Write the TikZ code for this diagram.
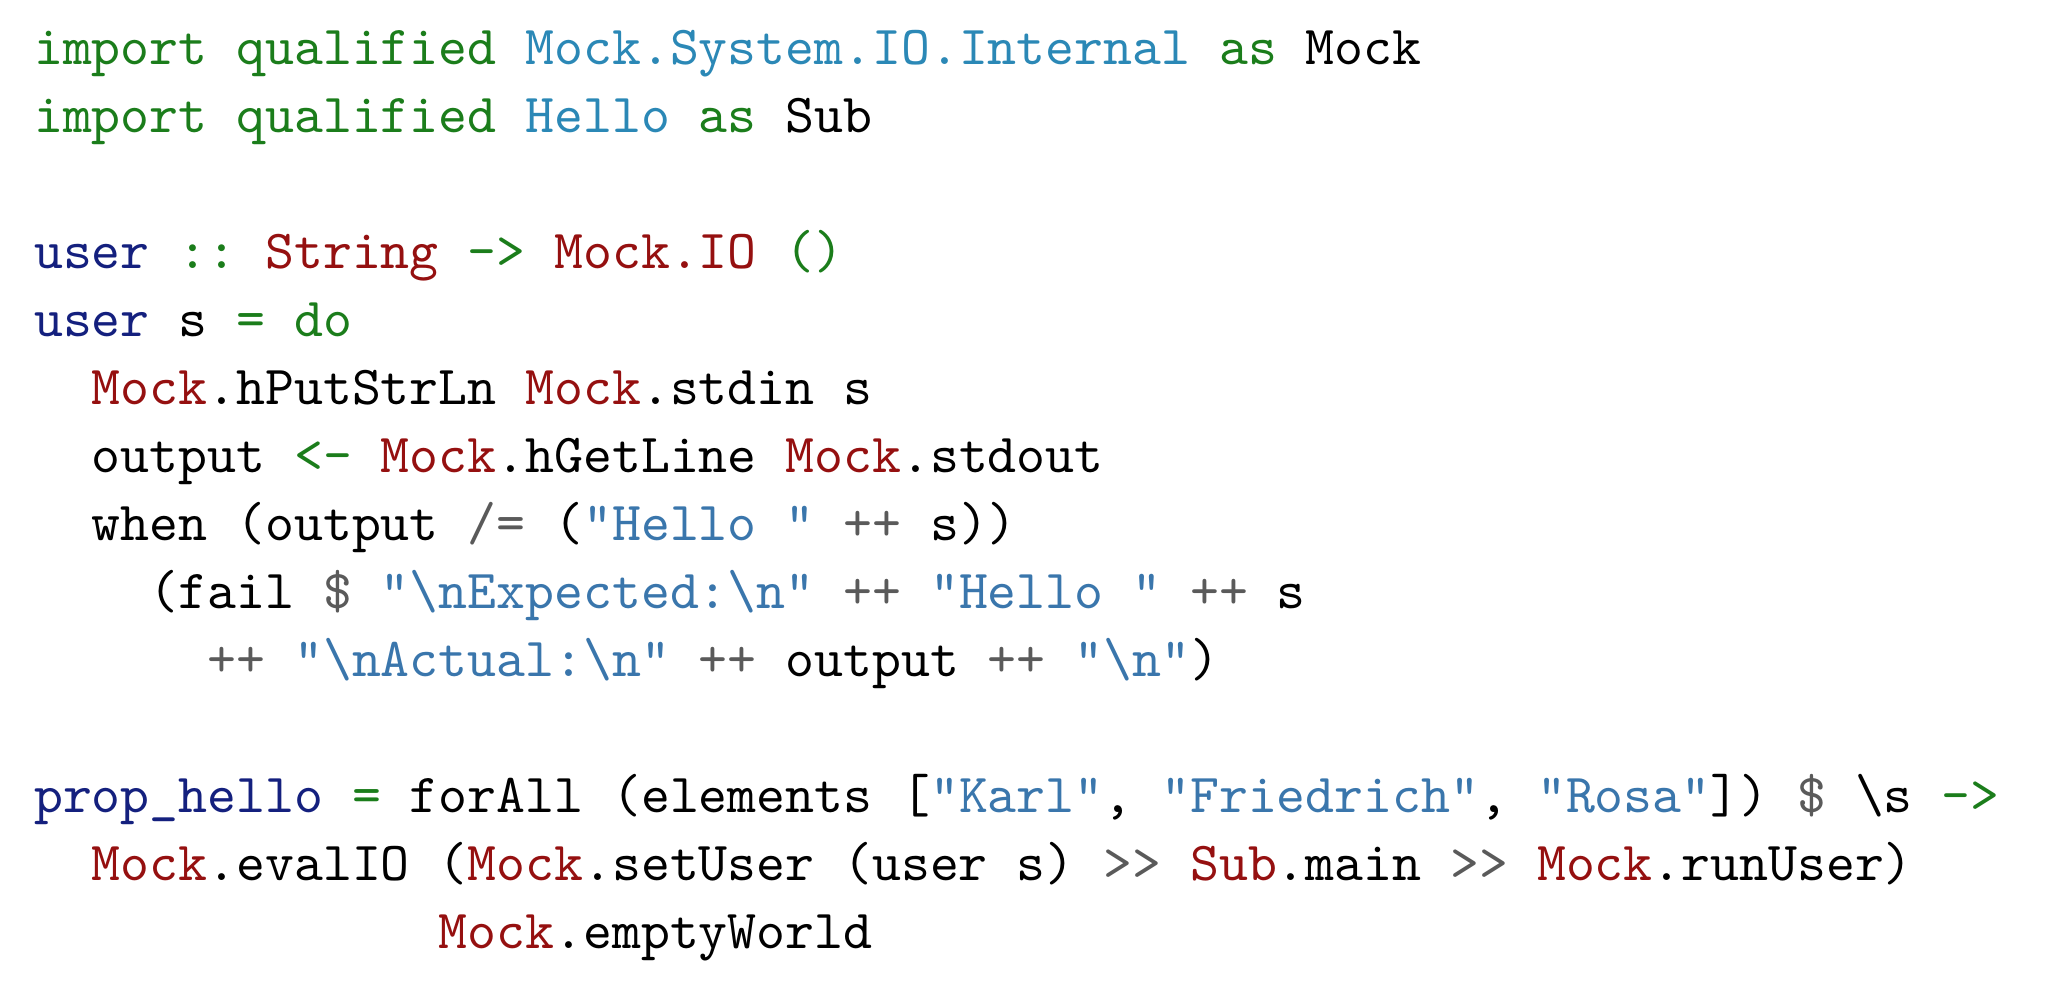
\documentclass[tikz,border=0pt]{standalone}
\usepackage{xcolor}
\definecolor{kwgreen}{HTML}{1B7D1B}
\definecolor{nsblue}{HTML}{2B88B6}
\definecolor{tyred}{HTML}{951010}
\definecolor{fnnavy}{HTML}{14207E}
\definecolor{stblue}{HTML}{3A76AC}
\definecolor{opgrey}{HTML}{5A5A5A}
\newcommand\kw[1]{\textcolor{kwgreen}{#1}}
\newcommand\ns[1]{\textcolor{nsblue}{#1}}
\newcommand\ty[1]{\textcolor{tyred}{#1}}
\newcommand\fn[1]{\textcolor{fnnavy}{#1}}
\newcommand\st[1]{\textcolor{stblue}{#1}}
\newcommand\op[1]{\textcolor{opgrey}{#1}}
\newcommand\bsl{\textbackslash}
\begin{document}
\begin{tikzpicture}[x=1pt,y=1pt,
  codeline/.style={anchor=base west,inner sep=0pt,outer sep=0pt,
    font=\fontsize{10}{12}\selectfont\ttfamily\frenchspacing}]
\useasboundingbox (0,0) rectangle (372,-182.6);
\def\xo{6.2}
\def\cw{5.25}
\def\yo{11.8}
\def\ls{12.35}
\node[codeline] (l0) at (\xo, {-\yo-0*\ls}) {\kw{import qualified} \ns{Mock.System.IO.Internal} \kw{as} Mock};
\node[codeline] (l1) at (\xo, {-\yo-1*\ls}) {\kw{import qualified} \ns{Hello} \kw{as} Sub};
\node[codeline] (l3) at (\xo, {-\yo-3*\ls}) {\fn{user} \kw{::} \ty{String} \kw{->} \ty{Mock.IO} \kw{()}};
\node[codeline] (l4) at (\xo, {-\yo-4*\ls}) {\fn{user} s \kw{=} \kw{do}};
\node[codeline] (l5) at ({\xo+2*\cw}, {-\yo-5*\ls}) {\ty{Mock}.hPutStrLn \ty{Mock}.stdin s};
\node[codeline] (l6) at ({\xo+2*\cw}, {-\yo-6*\ls}) {output \kw{<-} \ty{Mock}.hGetLine \ty{Mock}.stdout};
\node[codeline] (l7) at ({\xo+2*\cw}, {-\yo-7*\ls}) {when (output \op{/=} (\st{"Hello "} \op{++} s))};
\node[codeline] (l8) at ({\xo+4*\cw}, {-\yo-8*\ls}) {(fail \op{\$} \st{"\bsl nExpected:\bsl n"} \op{++} \st{"Hello "} \op{++} s};
\node[codeline] (l9) at ({\xo+6*\cw}, {-\yo-9*\ls}) {\op{++} \st{"\bsl nActual:\bsl n"} \op{++} output \op{++} \st{"\bsl n"})};
\node[codeline] (l11) at (\xo, {-\yo-11*\ls}) {\fn{prop\_hello} \kw{=} forAll (elements [\st{"Karl"}, \st{"Friedrich"}, \st{"Rosa"}]) \op{\$} \bsl s \kw{->}};
\node[codeline] (l12) at ({\xo+2*\cw}, {-\yo-12*\ls}) {\ty{Mock}.evalIO (\ty{Mock}.setUser (user s) \op{>>} \ty{Sub}.main \op{>>} \ty{Mock}.runUser)};
\node[codeline] (l13) at ({\xo+14*\cw}, {-\yo-13*\ls}) {\ty{Mock}.emptyWorld};
\end{tikzpicture}
\end{document}
